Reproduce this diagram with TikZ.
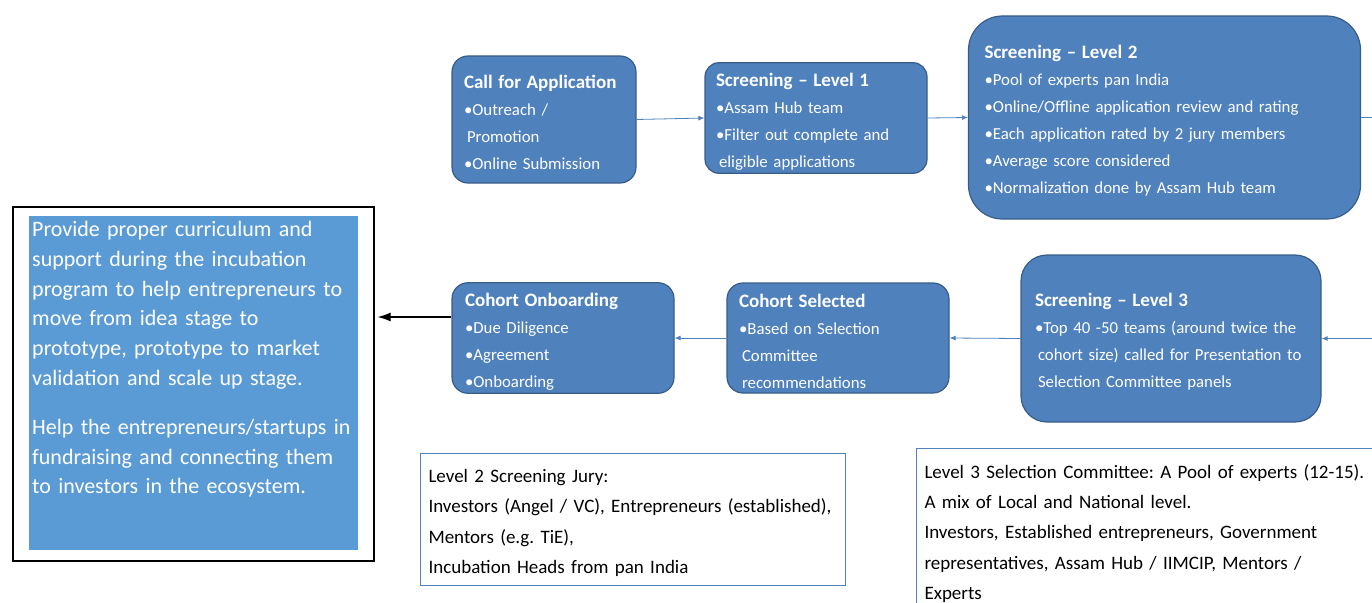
\documentclass[tikz,border=0pt]{standalone}
\usepackage{fontspec}
\setmainfont{Carlito}
\usetikzlibrary{arrows.meta,positioning}
\definecolor{stepblue}{RGB}{79,129,189}
\definecolor{stepedge}{RGB}{56,93,138}
\definecolor{goalblue}{RGB}{91,155,213}
\tikzset{
  stage/.style={draw=stepedge, line width=1.2pt, fill=stepblue, text=white,
    align=left, inner xsep=11pt, font=\fontsize{16.8}{27}\selectfont},
  flow/.style={draw=stepblue, line width=0.8pt, -{Latex[length=6pt,width=5pt]}},
  notebox/.style={draw=stepblue, line width=1pt, fill=white, align=left,
    anchor=north west, inner xsep=8pt, font=\fontsize{19}{30.2}\selectfont}
}
\newcommand{\stagetitle}[1]{{\rule{0pt}{20pt}\fontsize{19}{27}\selectfont\bfseries #1}}
\begin{document}
\frenchspacing
\begin{tikzpicture}[x=1pt,y=-1pt]
  \useasboundingbox (0,0) rectangle (1372,602);
  % top row
  \node[stage, rounded corners=16pt, minimum width=182pt, minimum height=127pt, text width=160pt, inner xsep=12pt]
    (call) at (544,119.5) {\stagetitle{Call for Application}\\
      •Outreach /\\ \hspace{3pt}Promotion\\ •Online Submission};
  \node[stage, rounded corners=14pt, minimum width=222pt, minimum height=110pt, text width=200pt]
    (scr1) at (816,118) {\stagetitle{Screening – Level 1}\\
      •Assam Hub team\\ •Filter out complete and\\ \hspace{3pt}eligible applications};
  \node[stage, rounded corners=34pt, minimum width=391pt, minimum height=203pt, text width=360pt, inner xsep=16pt]
    (scr2) at (1164.5,117.5) {\stagetitle{Screening – Level 2}\\
      •Pool of experts pan India\\ •Online/Offline application review and rating\\
      •Each application rated by 2 jury members\\ •Average score considered\\
      •Normalization done by Assam Hub team};
  % bottom row
  \node[stage, rounded corners=26pt, minimum width=300pt, minimum height=167pt, text width=272pt, inner xsep=14pt]
    (scr3) at (1171,338.5) {\stagetitle{Screening – Level 3}\\
      •Top 40 -50 teams (around twice the\\ \mbox{\hspace{3pt}cohort size) called for Presentation to}\\
      \hspace{3pt}Selection Committee panels};
  \node[stage, rounded corners=16pt, minimum width=222pt, minimum height=110pt, text width=198pt, inner xsep=12pt]
    (selected) at (838,338) {\stagetitle{Cohort Selected}\\
      •Based on Selection\\ \hspace{3pt}Committee\\ \hspace{3pt}recommendations};
  \node[stage, rounded corners=16pt, minimum width=222pt, minimum height=110pt, text width=196pt, inner xsep=13pt]
    (onboard) at (563,338) {\stagetitle{Cohort Onboarding}\\
      •Due Diligence\\ •Agreement\\ •Onboarding};
  % goal box
  \node[draw=black, line width=1.6pt, fill=white, minimum width=361pt, minimum height=354pt,
    anchor=north west] (frame) at (12,206) {};
  \node[fill=goalblue, minimum width=329pt, minimum height=334pt, anchor=north west]
    (goal) at (29,216) {};
  \node[anchor=north west, text=white, text width=325pt, align=left, inner xsep=3pt, inner ysep=5pt,
    font=\fontsize{22}{29.8}\selectfont] (goaltext) at (goal.north west)
    {Provide proper curriculum and\\ support during the incubation\\ program to help entrepreneurs to\\
     move from idea stage to\\ prototype, prototype to market\\ validation and scale up stage.\\[19pt]
     Help the entrepreneurs/startups in\\ fundraising and connecting them\\ to investors in the ecosystem.};
  % notes
  \node[notebox, minimum width=425pt, minimum height=132pt, text width=409pt] (jury) at (420,453)
    {\rule{0pt}{20pt}Level 2 Screening Jury:\\ Investors (Angel / VC), Entrepreneurs (established),\\
     Mentors (e.g. TiE),\\ Incubation Heads from pan India};
  \node[notebox, minimum width=454pt, minimum height=170pt, text width=440pt] (committee) at (916,448)
    {Level 3 Selection Committee: A Pool of experts (12-15).\\ A mix of Local and National level.\\
     Investors, Established entrepreneurs, Government\\ representatives, Assam Hub / IIMCIP, Mentors /\\
     Experts};
  % connectors
  \draw[flow] (call.east) -- (scr1.west);
  \draw[flow] (scr1.east) -- (scr2.west);
  \draw[flow] (scr2.east) -- ++(40,0) |- (scr3.east);
  \draw[flow] (scr3.west) -- (selected.east);
  \draw[flow] (selected.west) -- (onboard.west -| onboard.east);
  \draw[line width=1.2pt, -{Latex[length=13pt,width=9pt]}, shorten >=3pt]
    ([yshift=21pt]onboard.west) -- ([yshift=21pt]onboard.west -| frame.east);
\end{tikzpicture}
\end{document}
